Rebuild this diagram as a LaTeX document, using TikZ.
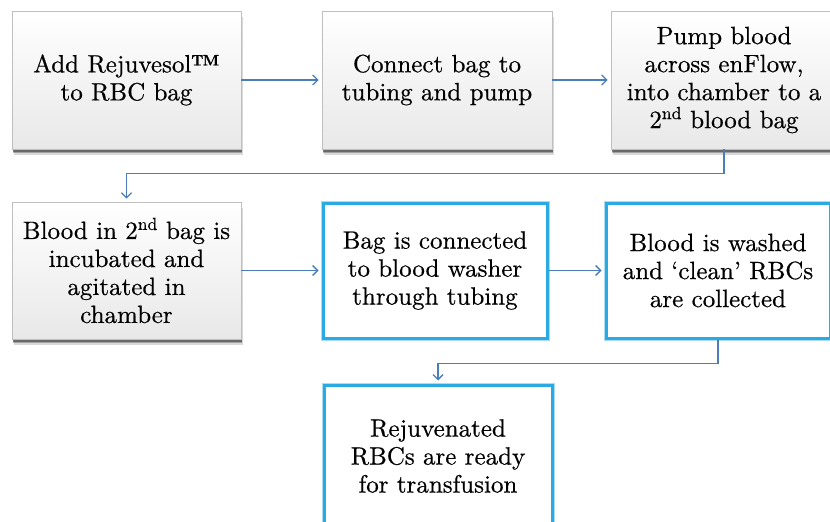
\documentclass[tikz,border=0pt]{standalone}
\usepackage{fontspec}
\newfontfamily\lmten{lmroman10-regular}[Extension=.otf,BoldFont=lmroman10-bold,FakeBold=0.5]
\usetikzlibrary{arrows.meta,shadows}
\definecolor{arrowblue}{RGB}{74,126,187}
\definecolor{boxblue}{RGB}{41,170,226}
\definecolor{halo}{RGB}{170,220,242}
\tikzset{
  txt/.style={align=center,font=\lmten\fontsize{25}{28}\selectfont,inner sep=0pt},
  graybox/.style={txt,rectangle,draw=black!25,line width=0.8pt,
    top color=white,bottom color=black!9,
    drop shadow={shadow xshift=1.5pt,shadow yshift=-5.5pt,opacity=0.15,fill=black},
    drop shadow={shadow xshift=1pt,shadow yshift=-4pt,opacity=0.25,fill=black},
    drop shadow={shadow xshift=0.5pt,shadow yshift=-2.5pt,opacity=0.35,fill=black}},
  bluebox/.style={txt,rectangle,fill=white,draw=boxblue,line width=3pt,
    preaction={draw=halo,line width=5pt}},
  flow/.style={draw=arrowblue,line width=1.3pt,
    -{Straight Barb[length=5pt,width=10pt,line width=1.3pt]},shorten >=3pt}
}
\begin{document}
\begin{tikzpicture}[x=1pt,y=-1pt]
\clip (0,0) rectangle (830,522);
\fill[white] (0,0) rectangle (830,522);
\node[graybox,minimum width=229pt,minimum height=138pt] (b1) at (126.5,80)
  {Add Rejuvesol\textbf{™}\\to RBC bag};
\node[graybox,minimum width=230pt,minimum height=138pt] (b2) at (437,80)
  {Connect bag to\\tubing and pump};
\node[graybox,minimum width=226pt,minimum height=138pt] (b3) at (724,80)
  {Pump blood\\across enFlow,\\into chamber to a\\2\textsuperscript{nd} blood bag};
\node[graybox,minimum width=229pt,minimum height=137pt] (b4) at (126.5,270.5)
  {Blood in 2\textsuperscript{nd} bag is\\incubated and\\agitated in\\chamber};
\node[bluebox,minimum width=224pt,minimum height=135pt] (b5) at (435,270.5)
  {Bag is connected\\to blood washer\\through tubing};
\node[bluebox,minimum width=224pt,minimum height=135pt] (b6) at (718,270.5)
  {Blood is washed\\and ‘clean’ RBCs\\are collected};
\node[bluebox,minimum width=228pt,minimum height=142pt] (b7) at (438,456)
  {Rejuvenated\\RBCs are ready\\for transfusion};
\draw[flow] (b1.east) -- (b2.west);
\draw[flow] (b2.east) -- (b3.west);
\draw[flow] (b3.south) -- ++(0,24) -| (b4.north);
\draw[flow] (b4.east) -- (b5.west);
\draw[flow] (b5.east) -- (b6.west);
\draw[flow] (b6.south) -- ++(0,24) -| (b7.north);
\end{tikzpicture}
\end{document}
